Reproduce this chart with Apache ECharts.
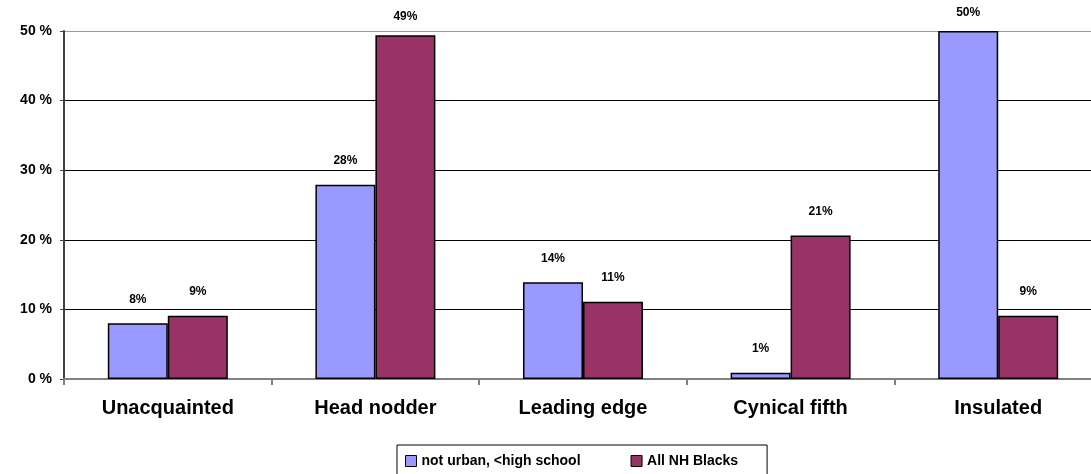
<!DOCTYPE html>
<html>
<head>
<meta charset="utf-8">
<script src="https://cdn.jsdelivr.net/npm/echarts@6/dist/echarts.min.js"></script>
<style>
  html, body { margin: 0; padding: 0; background: #fff; }
  #chart { width: 1091px; height: 474px; }
</style>
</head>
<body>
<div id="chart"></div>
<script>
// 分类与数值（百分比）
const categories = ["Unacquainted", "Head nodder", "Leading edge", "Cynical fifth", "Insulated"];
const notUrban = [8.0, 27.9, 13.9, 0.9, 50.0];
const allNHBlacks = [9.1, 49.4, 11.1, 20.6, 9.1];
const seriesNames = ["not urban, <high school", "All NH Blacks"];
const yTicks = [0, 10, 20, 30, 40, 50];

const colors = ["#9999FF", "#993366"];
const fontFamily = "'Liberation Sans', Arial, sans-serif";

let myChart = echarts.init(document.getElementById("chart"));

const barLabel = {
  show: true,
  position: "top",
  distance: 18,
  color: "#000",
  fontSize: 12,
  fontWeight: "bold",
  fontFamily,
  formatter: (p) => Math.round(p.value) + "%",
};

// 靠近顶部的柱标签往下压一点，避免超出画布
const toData = (arr) => arr.map((v) => (v > 45 ? { value: v, label: { distance: 12 } } : v));

const option = {
  animation: false,
  grid: {
    left: 64,
    top: 31,
    width: 1038,
    height: 348,
    containLabel: false,
    outerBoundsMode: "none",
  },
  legend: {
    left: 397,
    top: 445,
    icon: "rect",
    itemWidth: 11,
    itemHeight: 11,
    itemGap: 50,
    padding: [9, 29, 12, 8],
    borderColor: "#000",
    borderWidth: 1,
    textStyle: {
      color: "#000",
      fontSize: 14,
      fontWeight: "bold",
      fontFamily,
    },
    data: seriesNames.map((n) => ({ name: n, itemStyle: { borderColor: "#000", borderWidth: 1 } })),
  },
  xAxis: {
    type: "category",
    data: categories,
    axisLine: { lineStyle: { color: "#808080", width: 2 } },
    axisTick: { show: true, length: 6, lineStyle: { color: "#808080", width: 2 } },
    axisLabel: {
      color: "#000",
      fontSize: 20,
      fontWeight: "bold",
      fontFamily,
      margin: 19,
    },
  },
  yAxis: {
    type: "value",
    min: yTicks[0],
    max: yTicks[yTicks.length - 1],
    interval: 10,
    axisLine: { show: true, lineStyle: { color: "#404040", width: 2 } },
    axisTick: { show: true, length: 4, lineStyle: { color: "#404040" } },
    axisLabel: {
      color: "#000",
      fontSize: 14,
      fontWeight: "bold",
      fontFamily,
      margin: 12,
      formatter: (v) => v + " %",
    },
    splitLine: {
      lineStyle: {
        color: yTicks.map((t) => (t === 50 ? "#999" : "#000")),
        width: 1,
      },
    },
  },
  series: [
    {
      name: seriesNames[0],
      type: "bar",
      data: toData(notUrban),
      barWidth: 60,
      barGap: "0%",
      itemStyle: { color: colors[0], borderColor: "#000", borderWidth: 1.5 },
      label: barLabel,
    },
    {
      name: seriesNames[1],
      type: "bar",
      data: toData(allNHBlacks),
      barWidth: 60,
      barGap: "0%",
      itemStyle: { color: colors[1], borderColor: "#000", borderWidth: 1.5 },
      label: barLabel,
    },
  ],
};

myChart.setOption(option, true);
</script>
</body>
</html>
